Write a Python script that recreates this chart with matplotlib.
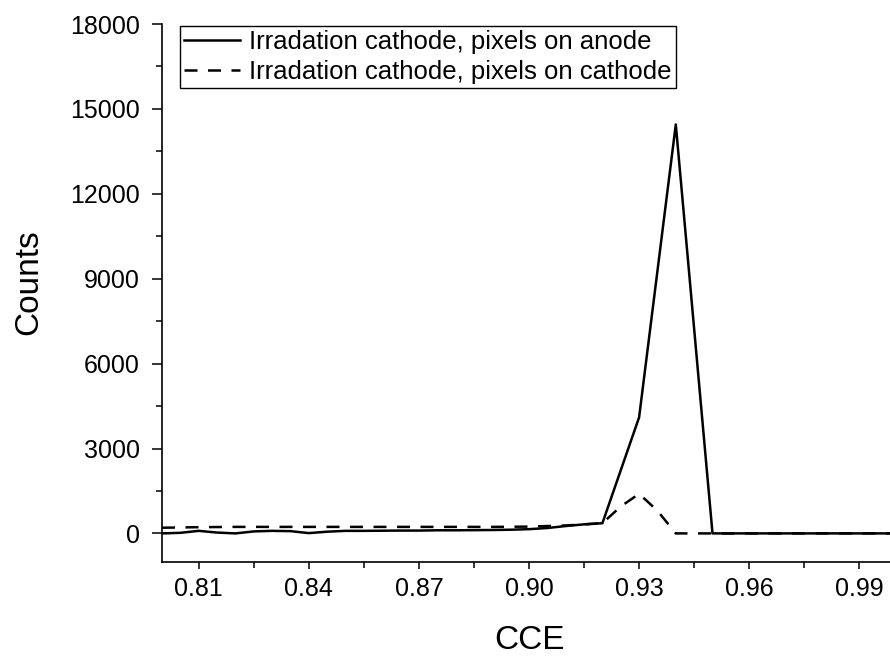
import matplotlib
matplotlib.use("Agg")
import matplotlib.pyplot as plt
from matplotlib.ticker import FixedLocator

plt.rcParams['font.family'] = ['Liberation Sans', 'DejaVu Sans']

# Data
cce_anode = [0.800, 0.805, 0.810, 0.815, 0.820, 0.825, 0.830, 0.835, 0.840, 0.845,
             0.850, 0.855, 0.860, 0.865, 0.870, 0.875, 0.880, 0.885, 0.890, 0.895,
             0.900, 0.905, 0.910, 0.915, 0.920, 0.930, 0.940, 0.950, 0.960, 0.970,
             0.980, 0.990, 1.000]
counts_anode = [0, 20, 90, 30, 0, 70, 90, 80, 10, 60,
                90, 90, 95, 100, 100, 110, 110, 115, 120, 130,
                150, 190, 260, 320, 360, 4100, 14450, 0, 0, 0,
                0, 0, 0]

cce_cathode = [0.800, 0.810, 0.820, 0.830, 0.840, 0.850, 0.860, 0.870, 0.880, 0.890,
               0.900, 0.910, 0.920, 0.925, 0.930, 0.935, 0.940, 0.950, 0.960, 0.970,
               0.980, 0.990, 1.000]
counts_cathode = [200, 220, 230, 230, 230, 230, 230, 230, 230, 230,
                  240, 280, 360, 950, 1400, 800, 0, 0, 0, 0,
                  0, 0, 0]

labels = ["Irradation cathode, pixels on anode",
          "Irradation cathode, pixels on cathode"]

x_ticks = [0.81, 0.84, 0.87, 0.90, 0.93, 0.96, 0.99]
x_tick_labels = ["0.81", "0.84", "0.87", "0.90", "0.93", "0.96", "0.99"]
x_minor = [0.825, 0.855, 0.885, 0.915, 0.945, 0.975]
y_ticks = [0, 3000, 6000, 9000, 12000, 15000, 18000]
y_minor = [1500, 4500, 7500, 10500, 13500, 16500]

fig = plt.figure(figsize=(8.9, 6.58), dpi=100)
W, H = 890, 658
left, right, bottom, top = 162, 896, 561.7, 24
ax = fig.add_axes([left / W, (H - bottom) / H, (right - left) / W, (bottom - top) / H])

ax.plot(cce_anode, counts_anode, color='black', lw=1.8, label=labels[0])
ax.plot(cce_cathode, counts_cathode, color='black', lw=1.8, ls=(0, (5.2, 4.2)), label=labels[1])

ax.set_xlim(0.80, 1.00)
ax.set_ylim(-1000, 18000)

ax.spines['top'].set_visible(False)
ax.spines['right'].set_visible(False)
for s in ('left', 'bottom'):
    ax.spines[s].set_linewidth(1.2)

ax.xaxis.set_major_locator(FixedLocator(x_ticks))
ax.set_xticklabels(x_tick_labels)
ax.xaxis.set_minor_locator(FixedLocator(x_minor))
ax.yaxis.set_major_locator(FixedLocator(y_ticks))
ax.yaxis.set_minor_locator(FixedLocator(y_minor))

ax.tick_params(axis='both', which='major', direction='out', width=1.1,
               labelsize=18, colors='black')
ax.tick_params(axis='x', which='major', length=5, pad=6)
ax.tick_params(axis='y', which='major', length=7, pad=9)
ax.tick_params(axis='both', which='minor', direction='out', length=4, width=1.1)

ax.set_xlabel("CCE", fontsize=24)
ax.xaxis.set_label_coords(0.5, -0.118)
ax.set_ylabel("Counts", fontsize=24)
ax.yaxis.set_label_coords(-0.161, 0.52)

leg = ax.legend(loc='upper left', bbox_to_anchor=(0.0245, 0.996), fontsize=18.5,
                frameon=True, fancybox=False, framealpha=1, edgecolor='black',
                handlelength=2.2, handletextpad=0.35, borderpad=0.15,
                labelspacing=0.25, borderaxespad=0.0)
leg.get_frame().set_linewidth(1.0)

fig.savefig("out.png", dpi=100)
